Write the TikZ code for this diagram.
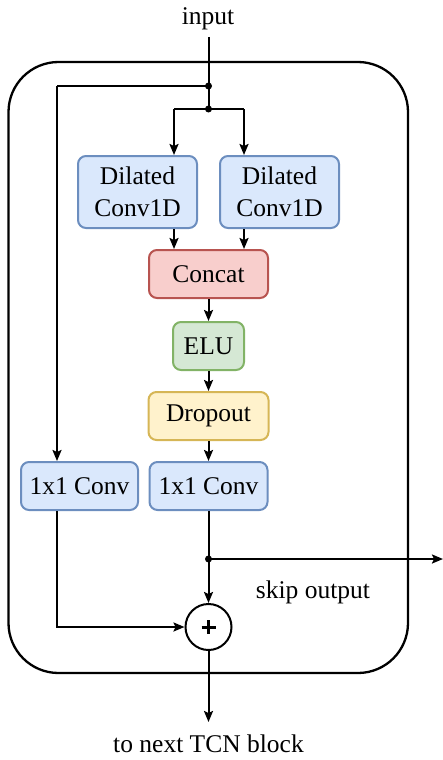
\documentclass[tikz,border=0pt]{standalone}
\usepackage{fontspec}
\setmainfont{Liberation Serif}
\usetikzlibrary{arrows.meta,calc}
\definecolor{bfill}{HTML}{DAE8FC}\definecolor{bdraw}{HTML}{6C8EBF}
\definecolor{rfill}{HTML}{F8CECC}\definecolor{rdraw}{HTML}{B85450}
\definecolor{gfill}{HTML}{D5E8D4}\definecolor{gdraw}{HTML}{82B366}
\definecolor{yfill}{HTML}{FFF2CC}\definecolor{ydraw}{HTML}{D6B656}
\begin{document}
\begin{tikzpicture}[x=1pt,y=-1pt,
  every node/.style={font=\fontsize{25.5}{32}\selectfont, inner sep=0pt},
  blk/.style={rounded corners=8pt, line width=2pt, align=center, minimum height=48pt},
  blue/.style={blk, fill=bfill, draw=bdraw},
  red/.style={blk, fill=rfill, draw=rdraw},
  green/.style={blk, fill=gfill, draw=gdraw},
  yellow/.style={blk, fill=yfill, draw=ydraw},
  arr/.style={line width=2pt, -{Stealth[length=11pt,width=9pt,inset=2pt]}},
  ln/.style={line width=2pt},
  dot/.style={circle, fill=black, minimum size=7pt, inner sep=0pt}]
\useasboundingbox (0,0) rectangle (443,760);
% outer block
\draw[line width=2.3pt, rounded corners=50pt] (8.5,62) rectangle (408,673);
% nodes
\node (in) at (208,19) {input};
\node[blue, minimum width=119pt, minimum height=72pt] (d1) at (137.5,192) {Dilated\\Conv1D};
\node[blue, minimum width=119pt, minimum height=72pt] (d2) at (279.5,192) {Dilated\\Conv1D};
\node[red, minimum width=119pt] (cc) at (208.5,274) {Concat};
\node[green, minimum width=71pt] (elu) at (208.5,346) {ELU};
\node[yellow, minimum width=120pt] (drop) at (208.5,416) {Dropout};
\node[blue, minimum width=118pt] (c2) at (208.5,486) {1x1 Conv};
\node[blue, minimum width=117pt] (c1) at (79.5,486) {1x1 Conv};
\node[circle, draw, line width=2pt, minimum size=46pt] (add) at (208.5,627) {};
\node (skip) at (313,592) {skip output};
\node (next) at (208.5,744) {to next TCN block};
% coordinates
\coordinate (top) at (208.5,37);
\coordinate (j1) at (208.5,86);
\coordinate (j2) at (208.5,109);
\coordinate (a1) at (174,109);
\coordinate (a2) at (244,109);
\coordinate (l1) at (57,86);
\coordinate (j3) at (208.5,559);
\coordinate (out) at (443,559);
\coordinate (nx) at (208.5,722);
% connectors
\draw[ln] (top) -- (j2);
\draw[ln] (j1) -- (l1);
\draw[arr] (l1) -- (l1|-c1.north);
\draw[ln] (a1) -- (a2);
\draw[arr] (a1) -- (a1|-d1.north);
\draw[arr] (a2) -- (a2|-d2.north);
\draw[arr] (a1|-d1.south) -- (a1|-cc.north);
\draw[arr] (a2|-d2.south) -- (a2|-cc.north);
\draw[arr] (cc) -- (elu);
\draw[arr] (elu) -- (drop);
\draw[arr] (drop) -- (c2);
\draw[ln] (c2.south) -- (j3);
\draw[arr] (j3) -- (add.north);
\draw[arr] (j3) -- (out);
\draw[arr] (l1|-c1.south) |- (add.west);
\draw[arr] (add.south) -- (nx);
\node[dot] at (j1) {};
\node[dot] at (j2) {};
\node[dot] at (j3) {};
% plus sign
\draw[line width=3pt] ($(add.center)+(-7,0)$) -- ($(add.center)+(7,0)$);
\draw[line width=3pt] ($(add.center)+(0,-7)$) -- ($(add.center)+(0,7)$);
\end{tikzpicture}
\end{document}
